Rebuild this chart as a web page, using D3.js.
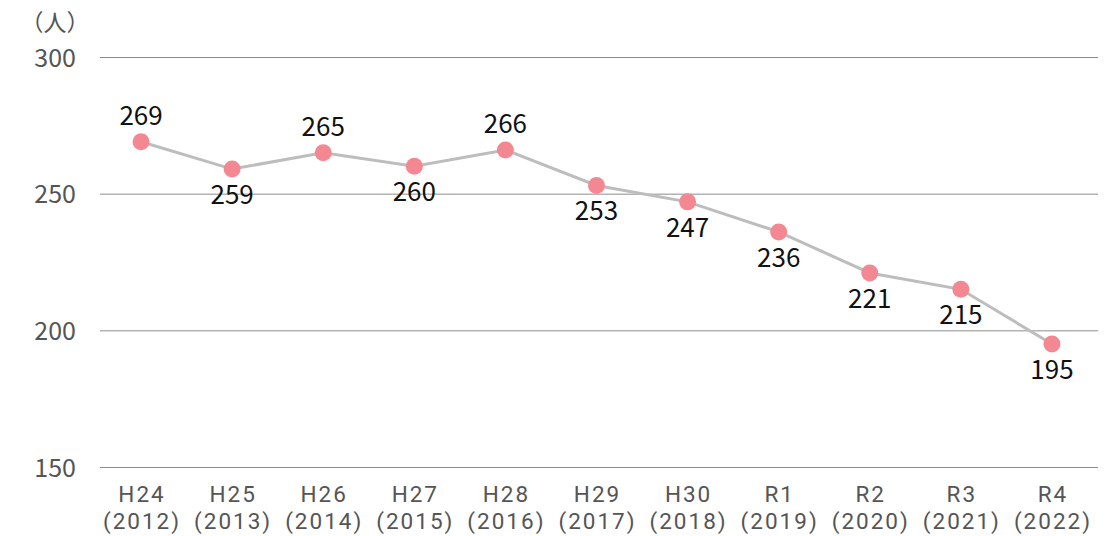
<!DOCTYPE html>
<html>
<head>
<meta charset="utf-8">
<script src="https://cdn.jsdelivr.net/npm/d3@7"></script>
<style>
  body { margin: 0; background: #fff; }
  svg { display: block; }
</style>
</head>
<body>
<div id="chart"></div>
<script>
var years = ["H24", "H25", "H26", "H27", "H28", "H29", "H30", "R1", "R2", "R3", "R4"]
var westernYears = ["(2012)", "(2013)", "(2014)", "(2015)", "(2016)", "(2017)", "(2018)", "(2019)", "(2020)", "(2021)", "(2022)"]
var people = [269, 259, 265, 260, 266, 253, 247, 236, 221, 215, 195]
// which labels go above the point
var labelAbove = [true, false, true, false, true, false, false, false, false, false, false]
var yTicks = [150, 200, 250, 300]

var W = 1119, H = 536
var font = "'Noto Sans CJK JP', 'Noto Sans', sans-serif"
var axisFont = "Roboto, 'Noto Sans', sans-serif"

var svg = d3.select("#chart").append("svg")
    .attr("width", W)
    .attr("height", H)

var x = d3.scaleBand().domain(years).range([95.5, 1097.5])
var y = d3.scaleLinear().domain([150, 300]).range([467, 57])
var cx = function (i) { return x(years[i]) + x.bandwidth() / 2 }

// gridlines
svg.selectAll(".grid")
    .data(yTicks)
    .enter()
    .append("line")
    .attr("x1", 100)
    .attr("x2", 1098)
    .attr("y1", function (d) { return y(d) + 0.5 })
    .attr("y2", function (d) { return y(d) + 0.5 })
    .attr("stroke", "#8c8c8c")
    .attr("stroke-width", 1)

// y tick labels
svg.selectAll(".ytick")
    .data(yTicks)
    .enter()
    .append("text")
    .attr("x", 76)
    .attr("y", function (d) { return y(d) })
    .attr("dy", "0.38em")
    .attr("text-anchor", "end")
    .attr("font-family", font)
    .attr("font-size", "25px")
    .attr("fill", "#555")
    .text(function (d) { return d })

// unit
svg.append("text")
    .attr("x", 55)
    .attr("y", 31)
    .attr("text-anchor", "middle")
    .attr("font-family", font)
    .attr("font-size", "23px")
    .attr("fill", "#555")
    .text("（人）")

// x labels, era line
svg.selectAll(".xlab")
    .data(years)
    .enter()
    .append("text")
    .attr("x", function (d, i) { return cx(i) + 1 })
    .attr("y", 502)
    .attr("text-anchor", "middle")
    .attr("font-family", axisFont)
    .attr("font-size", "22.5px")
    .attr("letter-spacing", "2px")
    .attr("fill", "#555")
    .text(function (d) { return d })

// x labels, western year line
svg.selectAll(".xlab2")
    .data(westernYears)
    .enter()
    .append("text")
    .attr("x", function (d, i) { return cx(i) + 1 })
    .attr("y", 529)
    .attr("text-anchor", "middle")
    .attr("font-family", axisFont)
    .attr("font-size", "22.5px")
    .attr("letter-spacing", "2px")
    .attr("fill", "#555")
    .text(function (d) { return d })

// line
var line = d3.line()
    .x(function (d, i) { return cx(i) })
    .y(function (d) { return y(d) })

svg.append("path")
    .datum(people)
    .attr("d", line)
    .attr("fill", "none")
    .attr("stroke", "#bdbdbd")
    .attr("stroke-width", 3)

// points
svg.selectAll(".pt")
    .data(people)
    .enter()
    .append("circle")
    .attr("cx", function (d, i) { return cx(i) })
    .attr("cy", function (d) { return y(d) })
    .attr("r", 8.5)
    .attr("fill", "#f48892")

// value labels
svg.selectAll(".val")
    .data(people)
    .enter()
    .append("text")
    .attr("x", function (d, i) { return cx(i) })
    .attr("y", function (d, i) { return labelAbove[i] ? y(d) - 17 : y(d) + 35 })
    .attr("text-anchor", "middle")
    .attr("font-family", font)
    .attr("font-size", "26px")
    .attr("fill", "#111")
    .text(function (d) { return d })
</script>
</body>
</html>
